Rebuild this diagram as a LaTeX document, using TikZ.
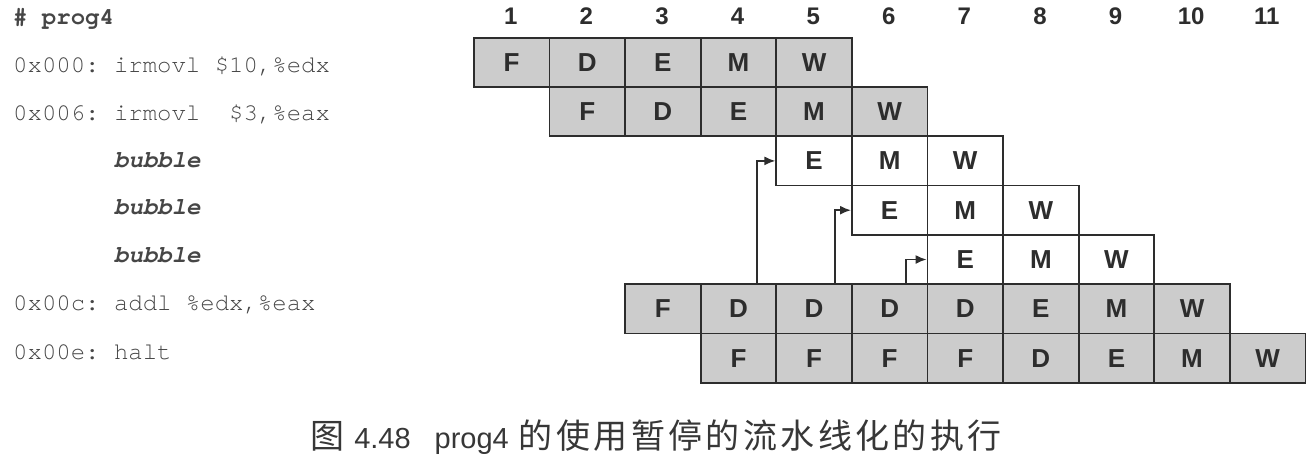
\documentclass[tikz,border=0pt]{standalone}
\usepackage{fontspec}
\setmainfont{Liberation Sans}
\newfontfamily\monofont{TeX Gyre Cursor}
\newfontfamily\cjkfont[LetterSpace=10]{Noto Sans CJK SC}
\usetikzlibrary{arrows.meta}
\definecolor{cellgray}{RGB}{204,204,204}
\definecolor{ink}{RGB}{45,45,45}
\definecolor{txt}{RGB}{70,70,70}
\definecolor{captxt}{RGB}{55,55,55}
\begin{document}
\begin{tikzpicture}[x=1pt,y=-1pt,
  cell/.style={draw=ink, line width=1.7pt, minimum width=75.6pt, minimum height=49.3pt,
    inner sep=0pt, anchor=north west, font=\fontsize{26}{26}\selectfont\bfseries, text=ink},
  gcell/.style={cell, fill=cellgray},
  wcell/.style={cell, fill=white},
  colnum/.style={font=\fontsize{24}{24}\selectfont\bfseries, text=ink},
  code/.style={anchor=base west, inner sep=0pt, font=\monofont\fontsize{24}{24}\selectfont, text=txt},
  arr/.style={draw=ink, line width=1.7pt, -{Latex[length=11pt,width=9pt]}}
]
\useasboundingbox (0,0) rectangle (1312,464);
% column numbers
\foreach \k in {1,...,11}
  \node[colnum] (n\k) at ({473+(\k-0.5)*75.6},16) {\k};
% pipeline rows
\foreach \r/\c/\labels/\sty in {1/1/{F,D,E,M,W}/gcell,
                                 2/2/{F,D,E,M,W}/gcell,
                                 3/5/{E,M,W}/wcell,
                                 4/6/{E,M,W}/wcell,
                                 5/7/{E,M,W}/wcell,
                                 6/3/{F,D,D,D,D,E,M,W}/gcell,
                                 7/4/{F,F,F,F,D,E,M,W}/gcell}{
  \foreach \l [count=\i from 0] in \labels {
    \pgfmathtruncatemacro\cc{\c+\i}
    \node[\sty] (r\r c\cc) at ({473+(\cc-1)*75.6},{36.8+(\r-1)*49.3}) {\l};
  }
}
% stall arrows
\draw[arr] ([xshift=-20pt]r6c4.north east) |- (r3c5.west);
\draw[arr] ([xshift=-18pt]r6c5.north east) |- (r4c6.west);
\draw[arr] ([xshift=-22pt]r6c6.north east) |- (r5c7.west);
% program text
\node[code] (t0) at (13,24) {\bfseries\#\ prog4};
\node[code] (t1) at (13,72) {0x000:\ irmovl\ \$10,\%edx};
\node[code] (t2) at (13,120) {0x006:\ irmovl\ \ \$3,\%eax};
\node[code] (t3) at (114,167) {\bfseries\itshape bubble};
\node[code] (t4) at (114,214) {\bfseries\itshape bubble};
\node[code] (t5) at (114,262) {\bfseries\itshape bubble};
\node[code] (t6) at (13,310) {0x00c:\ addl\ \%edx,\%eax};
\node[code] (t7) at (13,359) {0x00e:\ halt};
% caption
\node[anchor=base, inner sep=0pt, text=captxt] (cap) at (656,448)
  {\cjkfont\fontsize{34}{34}\selectfont 图\hspace{10pt}{\rmfamily\fontsize{29}{29}\selectfont 4.48}\hspace{24pt}{\rmfamily\fontsize{29}{29}\selectfont prog4}\hspace{10pt}的使用暂停的流水线化的执行};
\end{tikzpicture}
\end{document}
